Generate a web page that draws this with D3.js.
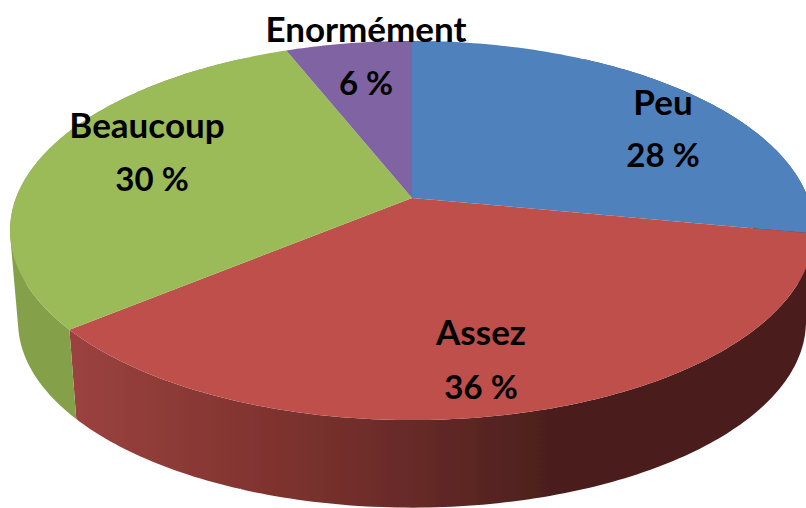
<!DOCTYPE html>
<html>
<head>
<meta charset="utf-8">
<script src="https://cdnjs.cloudflare.com/ajax/libs/d3/7.8.5/d3.min.js"></script>
<style>
    html, body { margin: 0; padding: 0; background: #fff; overflow: hidden; }
    text { font-family: Lato, "Open Sans", sans-serif; font-weight: 700; fill: #000; }
</style>
</head>
<body>
<div id="area"></div>
<script>
var categories = ["Peu", "Assez", "Beaucoup", "Enormément"];
var percents = [28, 36, 30, 6];
var colors = ["#4f81bd", "#be4f4c", "#9bbb59", "#8064a2"];

// label centres in pixels: name line and value line
var labelNameXY = [[663, 101], [481, 331], [147, 124], [366, 28]];
var labelValueXY = [[663, 154], [481, 386], [152, 178], [366, 82]];

var width = 806, height = 508;
var cx = 412, cy = 198, rx = 396, ry = 184;
var persp = -0.1715;      // top of the pie is further away
var depth = 92, bottomScale = 0.98;
var wallFrom = Math.PI / 6, wallTo = Math.PI * 11 / 6;   // back of the wall is hidden anyway

var svg = d3.select("#area")
    .append("svg")
    .attr("width", width)
    .attr("height", height)
    .style("display", "block");

// wall shading goes dark from left to right
var defs = svg.append("defs");
var blur = defs.append("filter").attr("id", "soft");
blur.append("feGaussianBlur").attr("stdDeviation", 0.5);

function wallGradient(id, stops) {
    var g = defs.append("linearGradient")
        .attr("id", id)
        .attr("gradientUnits", "userSpaceOnUse")
        .attr("x1", 0).attr("x2", width).attr("y1", 0).attr("y2", 0);
    stops.forEach(function (s) {
        g.append("stop").attr("offset", s[0]).attr("stop-color", s[1]);
    });
}
wallGradient("wall0", [[0, "#2f4a6d"], [1, "#2f4a6d"]]);
wallGradient("wall1", [[0.08, "#9c4340"], [0.33, "#80332f"], [0.5, "#692b29"], [0.68, "#4c1f1d"], [1, "#4c1f1d"]]);
wallGradient("wall2", [[0, "#84a04a"], [1, "#84a04a"]]);
wallGradient("wall3", [[0, "#6b5488"], [1, "#6b5488"]]);

// angle on the pie -> pixel, with a bit of perspective
function project(a, r, dy, scale) {
    var u = Math.sin(a) * r, v = -Math.cos(a) * r;
    var d = 1 + persp * v;
    return [cx + scale * rx * u / d, cy + dy + scale * ry * v / d];
}

function samples(a0, a1) {
    var n = Math.max(2, Math.ceil((a1 - a0) * 60));
    return d3.range(n + 1).map(function (i) { return a0 + (a1 - a0) * i / n; });
}

var pie = d3.pie().sort(null).value(function (d) { return d; });
var arcs = pie(percents);
var line = d3.line();
var chart = svg.append("g").attr("filter", "url(#soft)");

// side walls first, thin quads in one path so the edges stay straight and no seams show
arcs.forEach(function (d, i) {
    var a0 = Math.max(d.startAngle, wallFrom), a1 = Math.min(d.endAngle, wallTo);
    if (a1 <= a0) return;
    var path = "";
    d3.pairs(samples(a0, a1)).forEach(function (p) {
        var quad = [
            project(p[0], 1, 0, 1),
            project(p[1], 1, 0, 1),
            project(p[1], 1, depth, bottomScale),
            project(p[0], 1, depth, bottomScale)
        ];
        if (d3.polygonArea(quad) < 0) quad.reverse();
        path += line(quad) + "Z";
    });
    chart.append("path")
        .attr("d", path)
        .attr("fill", "url(#wall" + i + ")");
});

// top face
arcs.forEach(function (d, i) {
    var pts = [project(0, 0, 0, 1)].concat(samples(d.startAngle, d.endAngle).map(function (a) {
        return project(a, 1, 0, 1);
    }));
    chart.append("path")
        .attr("d", line(pts) + "Z")
        .attr("fill", colors[i]);
});

categories.forEach(function (name, i) {
    svg.append("text")
        .attr("x", labelNameXY[i][0])
        .attr("y", labelNameXY[i][1])
        .attr("text-anchor", "middle")
        .attr("dominant-baseline", "central")
        .attr("font-size", 35)
        .text(name);
    svg.append("text")
        .attr("x", labelValueXY[i][0])
        .attr("y", labelValueXY[i][1])
        .attr("text-anchor", "middle")
        .attr("dominant-baseline", "central")
        .attr("font-size", 33)
        .text(percents[i] + " %");
});
</script>
</body>
</html>
